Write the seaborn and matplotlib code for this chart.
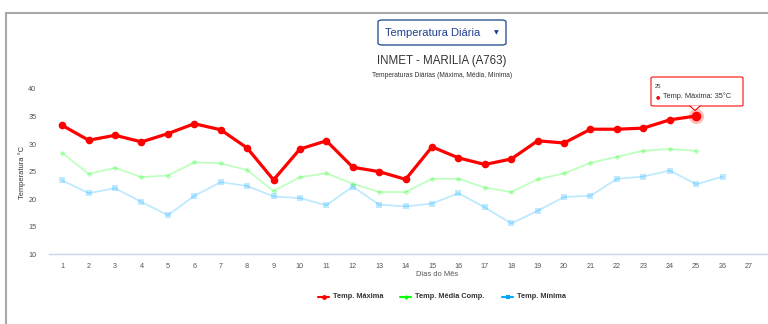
import matplotlib
matplotlib.use("Agg")
import matplotlib.pyplot as plt
import matplotlib.patches as mpatches
from matplotlib.lines import Line2D
import seaborn as sns
import pandas as pd

days_axis = list(range(1, 28))
temp_max = [33.4, 30.7, 31.6, 30.4, 31.9, 33.7, 32.6, 29.3, 23.5, 29.1, 30.6, 25.8, 25.0,
            23.6, 29.5, 27.5, 26.3, 27.3, 30.6, 30.2, 32.7, 32.7, 32.9, 34.4, 35.1]
temp_med = [28.4, 24.6, 25.7, 24.0, 24.3, 26.7, 26.5, 25.3, 21.5, 24.0, 24.7, 22.8, 21.3,
            21.3, 23.7, 23.7, 22.1, 21.3, 23.6, 24.7, 26.6, 27.7, 28.8, 29.1, 28.8]
temp_min = [23.4, 21.1, 22.0, 19.5, 17.1, 20.6, 23.1, 22.4, 20.5, 20.2, 18.9, 22.3, 19.0,
            18.7, 19.2, 21.1, 18.5, 15.6, 17.9, 20.4, 20.6, 23.7, 24.1, 25.2, 22.7, 24.1]
yticks = [10, 15, 20, 25, 30, 35, 40]
labels = ["Temp. Máxima", "Temp. Média Comp.", "Temp. Mínima"]
colors = ["#ff0000", "#00ff00", "#00a8ff"]

sns.set_style("white")
plt.rcParams["font.family"] = ["Liberation Sans", "DejaVu Sans"]

W, H = 768, 324
fig = plt.figure(figsize=(W / 100, H / 100), dpi=100)

def fx(px):
    return px / W

def fy(py):
    return 1 - py / H

# frame border
fig.add_artist(Line2D([fx(6), fx(6)], [fy(13), 0], color="#a9a9a9", lw=1.5))
fig.add_artist(Line2D([fx(6), 1], [fy(13), fy(13)], color="#a9a9a9", lw=1.5))

left, right = 49, 768
top, bottom = 89, 254.3
ax = fig.add_axes([fx(left), fy(bottom), fx(right - left), (bottom - top) / H])

df_max = pd.DataFrame({"dia": days_axis[:len(temp_max)], "t": temp_max})
df_med = pd.DataFrame({"dia": days_axis[:len(temp_med)], "t": temp_med})
df_min = pd.DataFrame({"dia": days_axis[:len(temp_min)], "t": temp_min})

sns.lineplot(data=df_min, x="dia", y="t", ax=ax, color=colors[2], alpha=0.25, lw=1.3,
             marker="s", markersize=5, markeredgewidth=0)
sns.lineplot(data=df_med, x="dia", y="t", ax=ax, color=colors[1], alpha=0.25, lw=1.3,
             marker="D", markersize=3, markeredgewidth=0)
sns.lineplot(data=df_max, x="dia", y="t", ax=ax, color=colors[0], lw=2.3,
             marker="o", markersize=5.5, markeredgewidth=0)

# hovered point
hx, hy = len(temp_max), temp_max[-1]
ax.scatter([hx], [hy], s=120, color="#ff0000", alpha=0.25, lw=0, zorder=4)
ax.scatter([hx], [hy], s=48, color="#ff0000", lw=0, zorder=5)

ax.set_xlim(0.5, 27.72)
ax.set_ylim(10, 40)
ax.set_xticks(days_axis)
ax.set_yticks(yticks)
ax.tick_params(axis="both", length=0, labelsize=5.2, labelcolor="#555555")
ax.tick_params(axis="x", pad=6)
ax.tick_params(axis="y", pad=9)
for s in ["top", "right", "left"]:
    ax.spines[s].set_visible(False)
ax.spines["bottom"].set_color("#ccd6eb")
ax.spines["bottom"].set_linewidth(1)
ax.set_xlabel("")
ax.set_ylabel("")
ax.grid(False)

fig.text(fx(437), fy(275), "Dias do Mês", ha="center", va="center", fontsize=5.4, color="#555555")
fig.text(fx(22), fy(172), "Temperatura °C", ha="center", va="center", rotation=90,
         fontsize=5.4, color="#333333")

fig.text(fx(442), fy(61), "INMET - MARILIA (A763)", ha="center", va="center", fontsize=8.3, color="#333333")
fig.text(fx(442), fy(76), "Temperaturas Diárias (Máxima, Média, Mínima)", ha="center", va="center",
         fontsize=4.8, color="#333333")

# dropdown
dd = mpatches.FancyBboxPatch((fx(378), fy(45)), fx(128), (45 - 20) / H,
                             boxstyle="round,pad=0,rounding_size=0.006",
                             transform=fig.transFigure, fc="white", ec="#2f5597", lw=1)
fig.add_artist(dd)
fig.text(fx(433), fy(32.5), "Temperatura Diária", ha="center", va="center", fontsize=8, color="#1f3f8f")
fig.text(fx(496), fy(33), "▼", ha="center", va="center", fontsize=4.5, color="#1f3f8f",
         family=["DejaVu Sans"])

# tooltip
tip = mpatches.FancyBboxPatch((fx(651), fy(106)), fx(92), (106 - 77) / H,
                              boxstyle="round,pad=0,rounding_size=0.003",
                              transform=fig.transFigure, fc="white", ec="#ff0000", lw=0.8, alpha=0.95)
fig.add_artist(tip)
fig.add_artist(mpatches.Polygon([[fx(690), fy(105.6)], [fx(700), fy(105.6)], [fx(695), fy(110)]],
                                closed=True, fc="white", ec="none", transform=fig.transFigure))
fig.add_artist(Line2D([fx(690), fx(695), fx(700)], [fy(106), fy(110.5), fy(106)],
                      color="#ff0000", lw=0.8))
fig.text(fx(655), fy(86.5), "25", ha="left", va="center", fontsize=4.2, color="#333333")
fig.text(fx(656), fy(96.5), "●", ha="left", va="center", fontsize=3.5, color="#ff0000",
         family=["DejaVu Sans"])
fig.text(fx(663), fy(96.5), "Temp. Máxima: 35°C", ha="left", va="center", fontsize=5.3, color="#333333")

# legend
leg_y = fy(297)
items = [(318, labels[0], colors[0], "o", 3.5), (400, labels[1], colors[1], "D", 2.5),
         (502, labels[2], colors[2], "s", 3.5)]
for x0, lab, c, m, ms in items:
    fig.add_artist(Line2D([fx(x0), fx(x0 + 11)], [leg_y, leg_y], color=c, lw=1.5,
                          marker=None))
    fig.add_artist(Line2D([fx(x0 + 5.5)], [leg_y], color=c, marker=m, markersize=ms,
                          markeredgewidth=0, ls="none"))
    fig.text(fx(x0 + 15), leg_y, lab, ha="left", va="center", fontsize=5.3,
             fontweight="bold", color="#333333")

fig.savefig("out.png", dpi=100)
